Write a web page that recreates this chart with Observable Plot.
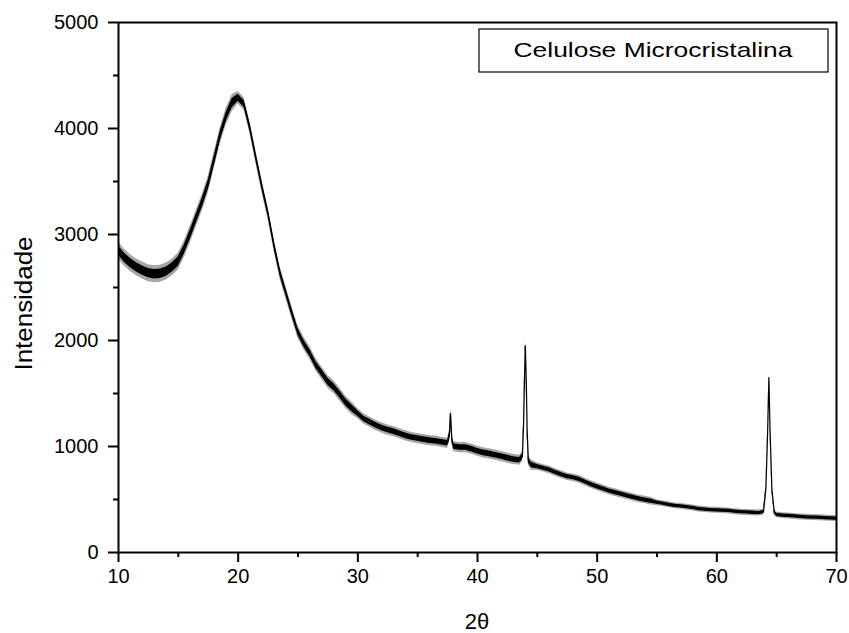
<!DOCTYPE html>
<html><head><meta charset="utf-8">
<script src="https://cdn.jsdelivr.net/npm/d3@7"></script>
<script src="https://cdn.jsdelivr.net/npm/@observablehq/plot@0.6"></script>
<style>body{margin:0;background:#fff}#chart{width:849px;height:633px}</style>
</head><body><div id="chart"></div>
<script>
const twoTheta = [
  10,10.5,11,11.5,12,12.5,13,13.5,14,14.5,
  15,15.5,16,16.5,17,17.5,18,18.5,19,19.5,
  20,20.5,21,21.5,22,22.5,23,23.5,24,24.5,
  25,25.5,26,26.5,27,27.5,28,28.5,29,29.5,
  30,30.5,31,31.5,32,32.5,33,33.5,34,34.5,
  35,35.5,36,36.5,37,37.5,37.65,37.75,37.85,38,38.5,39,39.5,
  40,40.5,41,41.5,42,42.5,43,43.5,43.75,43.85,43.92,44,44.08,44.15,44.25,44.5,
  45,45.5,46,46.5,47,47.5,48,48.5,49,49.5,
  50,50.5,51,51.5,52,52.5,53,53.5,54,54.5,
  55,55.5,56,56.5,57,57.5,58,58.5,59,59.5,
  60,60.5,61,61.5,62,62.5,63,63.5,63.9,64.1,64.25,64.35,64.45,64.6,64.8,
  65,65.5,66,66.5,67,67.5,68,68.5,69,69.5,70
];
const intensity = [
  2850,2780,2730,2690,2660,2635,2625,2630,2650,2690,
  2745,2860,3000,3150,3300,3470,3700,3930,4110,4240,
  4290,4230,4000,3720,3450,3200,2900,2640,2450,2260,
  2080,1970,1880,1770,1690,1610,1560,1490,1415,1360,
  1310,1260,1230,1200,1175,1155,1140,1120,1100,1085,
  1075,1065,1055,1050,1040,1030,1100,1310,1080,1000,990,990,975,
  955,940,930,918,905,890,878,870,900,1200,1600,1950,1600,1150,870,825,
  810,795,780,755,735,715,705,690,665,640,
  620,600,580,565,550,535,520,505,495,485,
  470,460,450,440,435,428,420,410,405,400,
  398,395,392,385,380,378,375,372,380,600,1150,1650,1150,600,380,
  355,348,345,340,335,332,330,328,325,322,320
];
// half-width of the noise band seen in the trace, by 2θ range
const noiseFrom = [10, 20, 30, 45, 55];
const noiseAmp  = [80, 60, 48, 36, 28];

const xMajor = [10,20,30,40,50,60,70];
const xMinor = [15,25,35,45,55,65];
const yMajor = [0,1000,2000,3000,4000,5000];
const yMinor = [500,1500,2500,3500,4500];

const legendText = "Celulose Microcristalina";
const xLabel = "2θ";
const yLabel = "Intensidade";

function noiseFor(x){
  let a = noiseAmp[0];
  noiseFrom.forEach((f,i)=>{ if (x >= f) a = noiseAmp[i]; });
  return a;
}
const data = twoTheta.map((x,i)=>({x, y:intensity[i], n:noiseFor(x)}));

const W = 849, H = 633, ML = 118, MR = 13, MT = 22, MB = 81;
const plot = Plot.plot({
  width: W, height: H,
  marginLeft: ML, marginRight: MR, marginTop: MT, marginBottom: MB,
  x: {domain: [10, 70]},
  y: {domain: [0, 5000]},
  style: {fontFamily: "'Liberation Sans', Arial, sans-serif", fontSize: "20px", color: "#000", background: "#fff"},
  marks: [
    Plot.areaY(data, {x: "x", y1: d => d.y - d.n, y2: d => d.y + d.n, fill: "#000", fillOpacity: 0.35, curve: "linear"}),
    Plot.areaY(data, {x: "x", y1: d => d.y - d.n*0.55, y2: d => d.y + d.n*0.55, fill: "#000", curve: "linear"}),
    Plot.line(data, {x: "x", y: "y", stroke: "#000", strokeWidth: 1.2}),
    Plot.axisX({ticks: xMajor, tickSize: 10, tickPadding: 6, fontSize: 20, tickFormat: d => String(d), label: null, strokeWidth: 2}),
    Plot.axisX({ticks: xMinor, tickSize: 5, tickFormat: () => "", label: null, strokeWidth: 2}),
    Plot.axisY({ticks: yMajor, tickSize: 10, tickPadding: 10, fontSize: 20, tickFormat: d => String(d), label: null, strokeWidth: 2}),
    Plot.axisY({ticks: yMinor, tickSize: 5, tickFormat: () => "", label: null, strokeWidth: 2}),
    Plot.frame({stroke: "#000", strokeWidth: 2})
  ]
});

const svg = d3.select(plot);
// axis titles
svg.append("text")
  .attr("transform", `translate(32,${(235 + 372)/2}) rotate(-90)`)
  .attr("text-anchor", "middle")
  .attr("font-size", 23)
  .attr("fill", "#000")
  .attr("textLength", 134).attr("lengthAdjust", "spacingAndGlyphs")
  .text(yLabel);
svg.append("text")
  .attr("x", ML + (W - ML - MR)/2)
  .attr("y", 629)
  .attr("text-anchor", "middle")
  .attr("font-size", 22)
  .attr("fill", "#000")
  .text(xLabel);
// legend box
const lg = svg.append("g");
lg.append("rect").attr("x", 479).attr("y", 29).attr("width", 349).attr("height", 43)
  .attr("fill", "#fff").attr("stroke", "#000").attr("stroke-width", 1.2);
lg.append("text").attr("x", 653).attr("y", 57).attr("text-anchor", "middle")
  .attr("font-size", 21).attr("fill", "#000")
  .attr("textLength", 279).attr("lengthAdjust", "spacingAndGlyphs")
  .text(legendText);

document.getElementById("chart").append(plot);
</script>
</body></html>
